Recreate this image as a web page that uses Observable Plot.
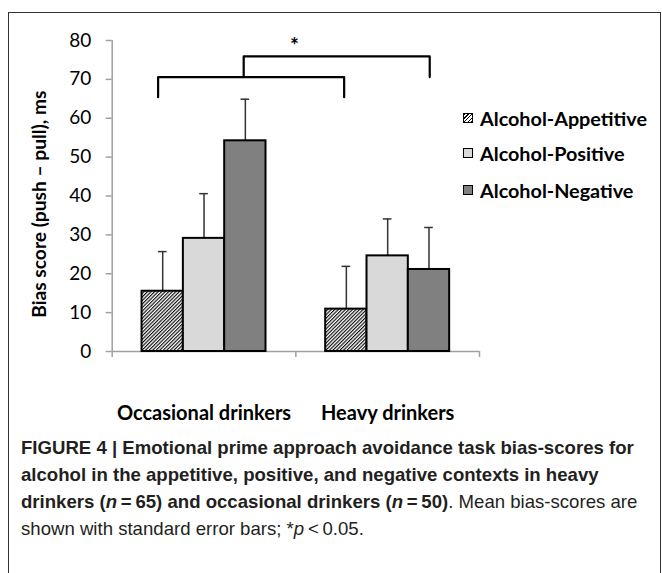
<!DOCTYPE html>
<html><head><meta charset="utf-8">
<script src="https://cdn.jsdelivr.net/npm/d3@7"></script>
<script src="https://cdn.jsdelivr.net/npm/@observablehq/plot@0.6"></script>
<style>
body{margin:0;background:#fff;}
#wrap{position:relative;width:662px;height:573px;overflow:hidden;background:#fff;}
#frame{position:absolute;left:8px;top:12px;width:651px;height:640px;border:1px solid #333;}
#chart{position:absolute;left:0;top:0;}
#legend{position:absolute;left:463px;top:0;font-family:Lato;font-weight:bold;font-size:19.8px;color:#000;}
.item{position:absolute;left:0;height:22px;display:flex;align-items:center;white-space:nowrap;}
.sw{width:8px;height:8px;border:1.5px solid #000;margin-right:7px;flex:none;}
#caption{position:absolute;left:21px;top:434px;font-family:"Liberation Sans Narrow","Arial Narrow",sans-serif;font-size:18.6px;line-height:27px;color:#231f20;white-space:nowrap;}
#caption b{font-weight:bold;}
</style></head>
<body>
<div id="wrap">
  <div id="frame"></div>
  <div id="chart"></div>
  <div id="legend"></div>
  <div id="caption">
    <b>FIGURE 4 | Emotional prime approach avoidance task bias-scores for</b><br>
    <b>alcohol in the appetitive, positive, and negative contexts in heavy</b><br>
    <b>drinkers (<i>n</i>&#8201;=&#8201;65) and occasional drinkers (<i>n</i>&#8201;=&#8201;50)</b>. Mean bias-scores are<br>
    shown with standard error bars; *<i>p</i>&#8201;&lt;&#8201;0.05.
  </div>
</div>
<script>
// ---- data ----
const groups = ["Occasional drinkers", "Heavy drinkers"];
const series = ["Alcohol-Appetitive", "Alcohol-Positive", "Alcohol-Negative"];
const seriesFill = ["url(#hatch)", "#d9d9d9", "#808080"];
const occasionalMeans = [15.5, 29.1, 54.2];
const heavyMeans = [10.9, 24.6, 21.1];
const occasionalSE = [10.2, 11.5, 10.7];
const heavySE = [11.0, 9.5, 10.8];
const yTicks = [0, 10, 20, 30, 40, 50, 60, 70, 80];
const yLabel = "Bias score (push \u2013 pull), ms";
// significance brackets (x in group units, y in ms)
const bracketLeftX = [0.25, 0.25, 1.263, 1.263];
const bracketLeftY = [65.4, 70.6, 70.6, 65.4];
const bracketRightX = [0.716, 0.716, 1.729, 1.729];
const bracketRightY = [70.6, 75.9, 75.9, 70.6];
const sigMark = "*";
const sigX = 0.992;
const sigY = 80;

// ---- build table ----
const means = [occasionalMeans, heavyMeans];
const ses = [occasionalSE, heavySE];
const BW = 0.225;
const pad = (1 - series.length * BW) / 2;
const rows = [];
groups.forEach((g, gi) => series.forEach((s, si) => {
  const x1 = gi + pad + si * BW;
  rows.push({group: g, series: s, fill: seriesFill[si], value: means[gi][si],
    upper: means[gi][si] + ses[gi][si], x1, x2: x1 + BW, xc: x1 + BW / 2});
}));
const capHalf = 0.0235;
const brackets = [
  bracketLeftX.map((x, i) => ({x, y: bracketLeftY[i], b: "L"})),
  bracketRightX.map((x, i) => ({x, y: bracketRightY[i], b: "R"}))
].flat();
const yLabelAt = 37.9;

const chart = Plot.plot({
  width: 662,
  height: 430,
  marginLeft: 111.7,
  marginRight: 183,
  marginTop: 40,
  marginBottom: 79,
  style: {fontFamily: "Lato", fontSize: "19px", color: "#000", background: "transparent", overflow: "visible"},
  x: {domain: [0, 2], axis: null},
  y: {domain: [0, 80], axis: null},
  color: {type: "identity"},
  marks: [
    Plot.ruleX([0], {y1: 0, y2: 80, stroke: "#a0a0a0", strokeWidth: 1.5}),
    Plot.axisY({ticks: yTicks, tickSize: 6, tickPadding: 15, stroke: "#a0a0a0", strokeWidth: 1.5, fill: "#000", fontSize: 19, label: null}),
    Plot.axisX({ticks: [0, 1, 2], tickSize: 6, tickFormat: () => "", stroke: "#a0a0a0", strokeWidth: 1.5, label: null}),
    Plot.ruleY([0], {stroke: "#a0a0a0", strokeWidth: 1.5}),
    Plot.ruleX(rows, {x: "xc", y1: "value", y2: "upper", stroke: "#333", strokeWidth: 1.5}),
    Plot.ruleY(rows, {y: "upper", x1: d => d.xc - capHalf, x2: d => d.xc + capHalf, stroke: "#333", strokeWidth: 1.5}),
    Plot.rect(rows, {x1: "x1", x2: "x2", y1: 0, y2: "value", fill: "fill", stroke: "#000", strokeWidth: 2}),
    Plot.line(brackets, {x: "x", y: "y", z: "b", stroke: "#000", strokeWidth: 2.2, curve: "linear"}),
    Plot.text([sigMark], {x: sigX, y: sigY, fontSize: 21, fontWeight: "bold", dy: 6}),
    Plot.text(groups, {x: (d, i) => i + 0.5, frameAnchor: "bottom", dy: 68, lineAnchor: "bottom", fontWeight: "bold", fontSize: 20}),
    Plot.text([yLabel], {y: yLabelAt, frameAnchor: "left", textAnchor: "middle", rotate: -90, dx: -72, fontWeight: "bold", fontSize: 19.2})
  ]
});
// hatch pattern definition
const defs = d3.select(chart).insert("defs", ":first-child");
const pat = defs.append("pattern").attr("id", "hatch").attr("patternUnits", "userSpaceOnUse")
  .attr("width", 2.5).attr("height", 2.5).attr("patternTransform", "rotate(45)");
pat.append("rect").attr("width", 2.5).attr("height", 2.5).attr("fill", "#fff");
pat.append("line").attr("x1", 0.6).attr("y1", 0).attr("x2", 0.6).attr("y2", 2.5).attr("stroke", "#000").attr("stroke-width", 1.1);
document.getElementById("chart").appendChild(chart);

// legend
const legendY = [118, 153, 190];
const legend = d3.select("#legend");
series.forEach((s, i) => {
  const it = legend.append("div").attr("class", "item").style("top", (legendY[i] - 11) + "px");
  const sw = it.append("div").attr("class", "sw");
  if (i === 0) sw.style("background", "repeating-linear-gradient(135deg, #000 0 1px, #fff 1px 2.6px)");
  else sw.style("background", seriesFill[i]);
  it.append("span").text(s);
});
</script>
</body></html>
